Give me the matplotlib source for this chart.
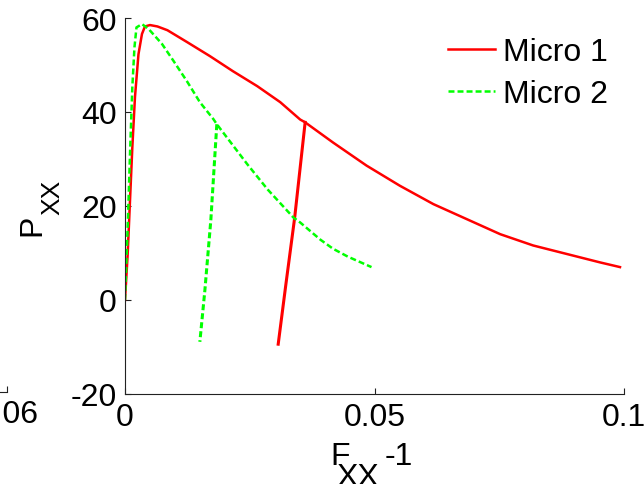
import matplotlib
matplotlib.use("Agg")
import matplotlib.pyplot as plt

plt.rcParams['font.family'] = ['Liberation Sans', 'DejaVu Sans']
plt.rcParams['axes.unicode_minus'] = False
plt.rcParams['lines.scale_dashes'] = False

# Micro 1: loading / softening curve
m1_x = [0, 0.00054, 0.001, 0.00147, 0.002, 0.0027, 0.0034, 0.004, 0.005, 0.0065,
        0.0085, 0.0124, 0.017, 0.0216, 0.0265, 0.0311, 0.0351, 0.0361, 0.0417, 0.0484,
        0.0551, 0.0618, 0.0685, 0.0752, 0.0818, 0.0885, 0.0952, 0.0992]
m1_y = [0, 9.8, 21.1, 32.5, 43.2, 52.3, 56.6, 58.2, 58.5, 58.2,
        57.4, 54.9, 51.9, 48.7, 45.5, 42.1, 38.4, 37.8, 33.5, 28.6,
        24.3, 20.4, 17.2, 14.0, 11.6, 9.8, 8.0, 7.0]
# Micro 1: unloading branch
m1u_x = [0.0361, 0.0340, 0.0322, 0.0307]
m1u_y = [37.8, 17.5, 3.0, -9.4]

# Micro 2: loading / softening curve
m2_x = [0, 0.00054, 0.001, 0.00147, 0.0019, 0.0023, 0.0034, 0.0047, 0.0074, 0.0097,
        0.0125, 0.015, 0.0177, 0.0184, 0.0245, 0.0286, 0.0338, 0.0351, 0.0392,
        0.0417, 0.0447, 0.0494]
m2_y = [0, 15.5, 31.0, 45.3, 53.8, 58.0, 58.7, 57.7, 54.5, 50.9,
        46.4, 42.1, 38.5, 37.4, 28.9, 23.5, 17.5, 16.5, 12.8,
        10.9, 9.2, 7.0]
# Micro 2: unloading branch
m2u_x = [0.0184, 0.0172, 0.0160, 0.0150]
m2u_y = [37.4, 17.0, 2.0, -8.9]

labels = ['Micro 1', 'Micro 2']
xticks = [0, 0.05, 0.1]
xticklabels = ['0', '0.05', '0.1']
yticks = [-20, 0, 20, 40, 60]

W, H = 644, 485
fig = plt.figure(figsize=(W / 100, H / 100), dpi=100)
FS = 23


def fx(px):
    return px / W


def fy(py):
    return 1 - py / H


L, R, T, B = 125, 624, 19, 395
ax = fig.add_axes([fx(L), fy(B), (R - L) / W, (B - T) / H])

red = (1, 0, 0)
green = (0, 1, 0)
lw = 1.8
ax.plot(m1_x, m1_y, color=red, lw=lw, label=labels[0])
ax.plot(m1u_x, m1u_y, color=red, lw=lw + 0.4)
ax.plot(m2_x, m2_y, color=green, lw=lw, dashes=(4.3, 2.2), label=labels[1])
ax.plot(m2u_x, m2u_y, color=green, lw=lw + 0.4, dashes=(4.3, 2.2))

ax.set_xlim(0, 0.1)
ax.set_ylim(-20, 60)
ax.set_xticks(xticks)
ax.set_xticklabels(xticklabels)
ax.set_yticks(yticks)
for s in ['top', 'right']:
    ax.spines[s].set_visible(False)
for s in ['left', 'bottom']:
    ax.spines[s].set_linewidth(0.8)
    ax.spines[s].set_color('#222222')
ax.tick_params(direction='in', length=4, width=0.8, labelsize=FS, pad=6,
               colors='#222222', labelcolor='black')

# axis labels with MATLAB-style deep subscripts
fig.text(fx(330), fy(465), 'F', fontsize=FS, ha='left', va='baseline')
fig.text(fx(336), fy(486), 'XX', fontsize=FS, ha='left', va='baseline')
fig.text(fx(385), fy(465), '-1', fontsize=FS, ha='left', va='baseline')
fig.text(fx(40), fy(235.5), 'P', fontsize=FS, rotation=90,
         rotation_mode='anchor', ha='left', va='baseline')
fig.text(fx(59), fy(215.5), 'XX', fontsize=19, rotation=90,
         rotation_mode='anchor', ha='left', va='baseline')

leg = fig.legend(loc='upper left', bbox_to_anchor=(fx(448), fy(38.5)),
                 frameon=False, fontsize=FS, handlelength=1.47,
                 handletextpad=0.25, labelspacing=0.36, borderpad=0,
                 borderaxespad=0)

# remnant of neighbouring axes at far left
ax2 = fig.add_axes([-0.5, fy(B) + 0.004, 0.5 + 7 / W, (B - T) / H])
ax2.set_xlim(0, 0.06)
ax2.set_ylim(-20, 60)
ax2.set_xticks([0.06])
ax2.set_xticklabels([''])
ax2.set_yticks([])
for s in ['top', 'right', 'left']:
    ax2.spines[s].set_visible(False)
ax2.spines['bottom'].set_linewidth(0.8)
ax2.spines['bottom'].set_color('#222222')
ax2.tick_params(direction='in', length=4, width=0.8, colors='#222222')
ax2.patch.set_visible(False)
fig.text(fx(39), fy(400), '0.06', ha='right', va='top', fontsize=FS)

fig.savefig('out.png', dpi=100)
